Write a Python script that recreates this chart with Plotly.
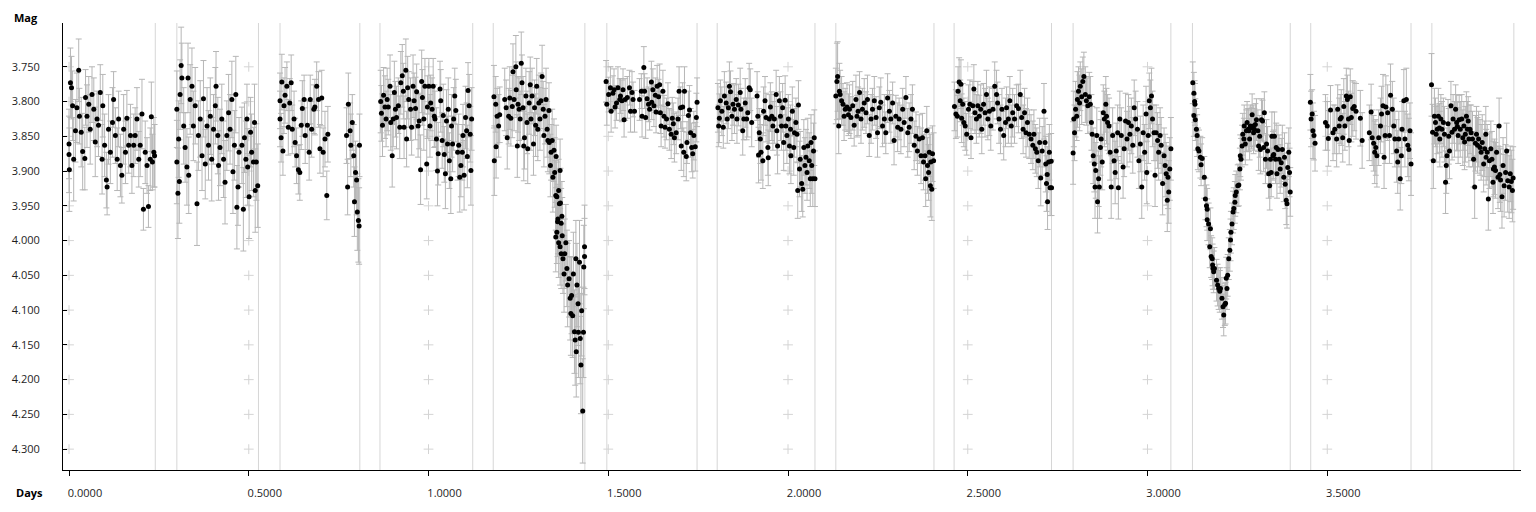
import plotly.graph_objects as go

# ---- data: (day, magnitude, error) per observing segment ----
seg1 = [(0.000,3.861,0.050),(0.000,3.876,0.055),(0.001,3.898,0.060),(0.004,3.773,0.050),(0.007,3.780,0.045),(0.010,3.806,0.050),(0.013,3.883,0.060),(0.018,3.842,0.045),(0.022,3.809,0.050),(0.027,3.755,0.045),(0.029,3.821,0.040),(0.034,3.844,0.050),(0.038,3.872,0.055),(0.044,3.882,0.045),(0.046,3.794,0.040),(0.050,3.821,0.045),(0.055,3.804,0.040),(0.059,3.840,0.050),(0.064,3.790,0.040),(0.069,3.811,0.045),(0.073,3.858,0.050),(0.078,3.825,0.040),(0.082,3.834,0.045),(0.087,3.787,0.040),(0.092,3.883,0.050),(0.094,3.806,0.045),(0.099,3.863,0.045),(0.104,3.913,0.040),(0.106,3.923,0.040),(0.110,3.840,0.050),(0.115,3.873,0.045),(0.121,3.830,0.050),(0.124,3.797,0.040),(0.129,3.849,0.040),(0.134,3.883,0.045),(0.138,3.825,0.040),(0.143,3.892,0.045),(0.147,3.906,0.040),(0.152,3.840,0.050),(0.157,3.873,0.045),(0.161,3.824,0.040),(0.166,3.863,0.040),(0.171,3.849,0.045),(0.175,3.892,0.040),(0.180,3.863,0.045),(0.184,3.849,0.040),(0.189,3.825,0.045),(0.194,3.883,0.040),(0.198,3.863,0.045),(0.203,3.818,0.050),(0.207,3.955,0.030),(0.212,3.873,0.045),(0.217,3.892,0.040),(0.221,3.951,0.030),(0.226,3.883,0.045),(0.229,3.822,0.050),(0.232,3.887,0.040),(0.236,3.873,0.050),(0.238,3.878,0.045)]
seg2 = [(0.300,3.811,0.055),(0.300,3.887,0.060),(0.303,3.932,0.065),(0.305,3.854,0.055),(0.307,3.915,0.060),(0.309,3.790,0.050),(0.312,3.748,0.055),(0.314,3.766,0.050),(0.319,3.835,0.055),(0.323,3.866,0.050),(0.328,3.894,0.055),(0.331,3.766,0.050),(0.333,3.906,0.055),(0.337,3.797,0.050),(0.342,3.778,0.055),(0.346,3.835,0.050),(0.351,3.806,0.055),(0.356,3.947,0.060),(0.360,3.849,0.050),(0.365,3.825,0.055),(0.370,3.878,0.050),(0.374,3.796,0.055),(0.379,3.890,0.050),(0.384,3.835,0.055),(0.388,3.863,0.050),(0.393,3.821,0.055),(0.397,3.883,0.060),(0.402,3.840,0.050),(0.407,3.806,0.055),(0.409,3.778,0.050),(0.414,3.849,0.055),(0.416,3.892,0.050),(0.420,3.866,0.055),(0.425,3.825,0.050),(0.430,3.883,0.055),(0.434,3.916,0.060),(0.439,3.849,0.050),(0.444,3.816,0.055),(0.448,3.840,0.050),(0.453,3.797,0.055),(0.456,3.901,0.060),(0.460,3.863,0.050),(0.464,3.790,0.055),(0.467,3.952,0.060),(0.470,3.923,0.055),(0.473,3.873,0.050),(0.481,3.863,0.055),(0.485,3.955,0.060),(0.488,3.852,0.050),(0.492,3.883,0.055),(0.495,3.825,0.050),(0.497,3.894,0.055),(0.501,3.937,0.060),(0.505,3.844,0.050),(0.508,3.873,0.055),(0.513,3.887,0.050),(0.516,3.830,0.055),(0.518,3.928,0.060),(0.521,3.887,0.055),(0.525,3.921,0.060)]
seg3 = [(0.587,3.799,0.040),(0.587,3.825,0.040),(0.590,3.852,0.035),(0.592,3.772,0.040),(0.595,3.871,0.035),(0.598,3.806,0.040),(0.601,3.791,0.040),(0.606,3.778,0.035),(0.610,3.837,0.040),(0.614,3.802,0.035),(0.618,3.773,0.040),(0.621,3.840,0.035),(0.626,3.825,0.040),(0.629,3.859,0.035),(0.633,3.878,0.040),(0.638,3.898,0.035),(0.642,3.902,0.040),(0.646,3.834,0.035),(0.649,3.810,0.040),(0.654,3.797,0.035),(0.657,3.849,0.040),(0.663,3.834,0.035),(0.668,3.873,0.040),(0.671,3.797,0.035),(0.675,3.840,0.040),(0.681,3.811,0.035),(0.684,3.808,0.040),(0.689,3.778,0.035),(0.694,3.797,0.040),(0.698,3.868,0.035),(0.703,3.795,0.040),(0.707,3.873,0.035),(0.712,3.854,0.040),(0.717,3.935,0.035),(0.720,3.847,0.040),(0.772,3.849,0.040),(0.775,3.923,0.040),(0.777,3.804,0.045),(0.782,3.842,0.040),(0.784,3.863,0.045),(0.788,3.830,0.040),(0.792,3.878,0.045),(0.794,3.944,0.050),(0.797,3.902,0.045),(0.800,3.913,0.050),(0.802,3.959,0.055),(0.805,3.971,0.060),(0.807,3.979,0.055),(0.808,3.863,0.045)]
seg4 = [(0.867,3.800,0.045),(0.869,3.817,0.040),(0.872,3.834,0.045),(0.875,3.791,0.040),(0.879,3.808,0.045),(0.882,3.825,0.040),(0.885,3.797,0.045),(0.888,3.808,0.040),(0.893,3.778,0.045),(0.895,3.830,0.040),(0.899,3.878,0.045),(0.902,3.825,0.040),(0.905,3.787,0.045),(0.908,3.811,0.040),(0.911,3.823,0.045),(0.916,3.806,0.040),(0.920,3.837,0.045),(0.923,3.773,0.045),(0.927,3.763,0.045),(0.930,3.785,0.040),(0.932,3.837,0.045),(0.937,3.755,0.045),(0.939,3.854,0.040),(0.942,3.780,0.045),(0.945,3.797,0.040),(0.950,3.811,0.045),(0.953,3.837,0.040),(0.957,3.778,0.045),(0.960,3.799,0.040),(0.964,3.810,0.045),(0.967,3.786,0.040),(0.971,3.835,0.045),(0.974,3.828,0.040),(0.978,3.898,0.050),(0.981,3.771,0.045),(0.983,3.794,0.040),(0.987,3.825,0.045),(0.990,3.778,0.040),(0.995,3.890,0.050),(0.997,3.808,0.045),(1.001,3.778,0.040),(1.004,3.835,0.045),(1.006,3.802,0.040),(1.010,3.811,0.045),(1.013,3.778,0.040),(1.016,3.821,0.045),(1.018,3.825,0.040),(1.022,3.854,0.045),(1.025,3.900,0.050),(1.027,3.875,0.045),(1.032,3.782,0.040),(1.034,3.799,0.045),(1.038,3.856,0.040),(1.041,3.820,0.045),(1.044,3.876,0.040),(1.047,3.904,0.050),(1.050,3.828,0.045),(1.053,3.861,0.040),(1.055,3.811,0.045),(1.058,3.885,0.040),(1.062,3.911,0.050),(1.064,3.835,0.045),(1.067,3.861,0.040),(1.070,3.825,0.045),(1.073,3.792,0.040),(1.076,3.813,0.045),(1.081,3.873,0.040),(1.084,3.863,0.045),(1.087,3.909,0.050),(1.090,3.892,0.045),(1.094,3.873,0.040),(1.096,3.849,0.045),(1.099,3.906,0.050),(1.103,3.823,0.045),(1.106,3.842,0.040),(1.108,3.879,0.045),(1.110,3.784,0.040),(1.113,3.806,0.045),(1.116,3.847,0.040),(1.118,3.899,0.050),(1.120,3.825,0.045)]
seg5 = [(1.182,3.793,0.045),(1.183,3.885,0.050),(1.187,3.804,0.040),(1.188,3.865,0.045),(1.191,3.821,0.040),(1.195,3.835,0.045),(1.198,3.819,0.040),(1.212,3.797,0.045),(1.216,3.809,0.040),(1.219,3.852,0.045),(1.223,3.821,0.040),(1.226,3.795,0.045),(1.229,3.824,0.040),(1.233,3.807,0.045),(1.235,3.757,0.040),(1.238,3.797,0.045),(1.243,3.750,0.045),(1.244,3.783,0.040),(1.247,3.864,0.045),(1.249,3.804,0.040),(1.252,3.811,0.045),(1.255,3.825,0.040),(1.258,3.745,0.045),(1.260,3.773,0.040),(1.263,3.809,0.045),(1.265,3.864,0.050),(1.267,3.852,0.045),(1.271,3.792,0.040),(1.274,3.830,0.045),(1.276,3.868,0.050),(1.280,3.802,0.045),(1.283,3.776,0.040),(1.285,3.825,0.045),(1.288,3.792,0.040),(1.292,3.861,0.045),(1.295,3.809,0.040),(1.298,3.834,0.045),(1.301,3.778,0.040),(1.304,3.840,0.045),(1.307,3.802,0.040),(1.310,3.825,0.045),(1.313,3.799,0.040),(1.316,3.764,0.045),(1.319,3.811,0.040),(1.321,3.849,0.045),(1.324,3.821,0.040),(1.327,3.797,0.045),(1.330,3.840,0.040),(1.332,3.856,0.045),(1.335,3.813,0.040),(1.336,3.859,0.045),(1.339,3.892,0.045),(1.341,3.873,0.040),(1.344,3.856,0.045),(1.346,3.909,0.050),(1.349,3.870,0.045),(1.351,3.902,0.050),(1.354,3.935,0.050),(1.355,3.879,0.045),(1.357,3.937,0.050),(1.360,3.969,0.050),(1.362,3.928,0.045),(1.364,3.947,0.050),(1.366,3.899,0.045),(1.367,3.946,0.050),(1.369,3.975,0.050),(1.371,3.965,0.050),(1.354,3.995,0.050),(1.357,3.988,0.045),(1.359,3.973,0.050),(1.362,4.003,0.050),(1.366,4.009,0.055),(1.369,4.019,0.050),(1.372,3.993,0.055),(1.374,4.026,0.050),(1.377,4.048,0.055),(1.379,4.019,0.050),(1.382,4.003,0.055),(1.385,4.040,0.055),(1.387,4.064,0.060),(1.391,4.055,0.055),(1.394,4.083,0.060),(1.396,4.105,0.060),(1.398,4.079,0.055),(1.401,4.108,0.060),(1.403,4.048,0.060),(1.406,4.131,0.060),(1.408,4.143,0.065),(1.410,4.026,0.055),(1.411,4.160,0.065),(1.413,4.064,0.060),(1.416,4.091,0.060),(1.417,4.132,0.065),(1.420,4.031,0.060),(1.422,4.141,0.065),(1.424,4.179,0.070),(1.426,4.101,0.065),(1.429,4.245,0.075),(1.431,4.132,0.065),(1.432,4.038,0.060),(1.434,4.023,0.055),(1.434,4.009,0.060)]
seg6 = [(1.494,3.771,0.030),(1.496,3.804,0.030),(1.501,3.790,0.025),(1.506,3.780,0.030),(1.508,3.814,0.030),(1.513,3.788,0.025),(1.516,3.783,0.030),(1.519,3.808,0.030),(1.523,3.802,0.025),(1.527,3.780,0.030),(1.532,3.797,0.030),(1.534,3.792,0.025),(1.538,3.799,0.030),(1.541,3.783,0.030),(1.544,3.826,0.025),(1.547,3.797,0.030),(1.553,3.794,0.030),(1.559,3.780,0.025),(1.562,3.814,0.030),(1.566,3.787,0.030),(1.569,3.797,0.025),(1.573,3.814,0.030),(1.587,3.797,0.030),(1.592,3.785,0.025),(1.594,3.821,0.030),(1.599,3.751,0.030),(1.601,3.785,0.025),(1.604,3.823,0.030),(1.608,3.796,0.030),(1.612,3.804,0.025),(1.615,3.811,0.030),(1.620,3.772,0.030),(1.621,3.801,0.025),(1.624,3.783,0.030),(1.627,3.806,0.030),(1.631,3.791,0.025),(1.633,3.815,0.030),(1.636,3.778,0.030),(1.640,3.793,0.025),(1.643,3.776,0.030),(1.645,3.816,0.030),(1.647,3.835,0.030),(1.652,3.785,0.030),(1.655,3.821,0.030),(1.658,3.837,0.030),(1.662,3.825,0.030),(1.666,3.803,0.030),(1.670,3.840,0.030),(1.675,3.847,0.035),(1.678,3.824,0.030),(1.681,3.832,0.030),(1.684,3.852,0.035),(1.689,3.845,0.030),(1.694,3.825,0.030),(1.697,3.785,0.035),(1.701,3.809,0.030),(1.703,3.864,0.035),(1.707,3.808,0.035),(1.710,3.873,0.035),(1.712,3.785,0.035),(1.717,3.879,0.035),(1.719,3.859,0.030),(1.723,3.820,0.035),(1.726,3.812,0.035),(1.729,3.845,0.035),(1.732,3.866,0.035),(1.735,3.875,0.035),(1.738,3.849,0.035),(1.742,3.865,0.035),(1.745,3.823,0.035),(1.747,3.801,0.035)]
seg7 = [(1.805,3.809,0.035),(1.807,3.835,0.030),(1.809,3.824,0.035),(1.812,3.799,0.030),(1.816,3.814,0.035),(1.820,3.837,0.030),(1.823,3.792,0.035),(1.828,3.802,0.030),(1.831,3.825,0.035),(1.834,3.809,0.030),(1.837,3.778,0.035),(1.840,3.786,0.030),(1.844,3.821,0.035),(1.847,3.804,0.030),(1.851,3.811,0.035),(1.856,3.797,0.030),(1.858,3.825,0.035),(1.862,3.805,0.030),(1.867,3.787,0.035),(1.869,3.811,0.030),(1.874,3.842,0.035),(1.877,3.825,0.030),(1.881,3.802,0.035),(1.885,3.825,0.030),(1.888,3.816,0.035),(1.892,3.780,0.035),(1.895,3.783,0.030),(1.899,3.830,0.035),(1.914,3.792,0.035),(1.916,3.821,0.035),(1.918,3.877,0.040),(1.920,3.845,0.035),(1.923,3.854,0.035),(1.925,3.873,0.040),(1.930,3.885,0.040),(1.932,3.814,0.035),(1.936,3.799,0.035),(1.939,3.823,0.035),(1.944,3.866,0.040),(1.945,3.881,0.040),(1.948,3.825,0.035),(1.951,3.808,0.035),(1.955,3.821,0.035),(1.958,3.835,0.035),(1.962,3.825,0.035),(1.967,3.790,0.035),(1.969,3.842,0.035),(1.971,3.864,0.040),(1.976,3.799,0.035),(1.979,3.821,0.035),(1.982,3.835,0.035),(1.985,3.809,0.035),(1.988,3.859,0.040),(1.992,3.798,0.035),(1.994,3.835,0.035),(1.997,3.849,0.040),(2.001,3.825,0.035),(2.004,3.864,0.040),(2.007,3.840,0.035),(2.008,3.878,0.040),(2.012,3.814,0.035),(2.016,3.866,0.040),(2.018,3.845,0.035),(2.022,3.830,0.035),(2.025,3.847,0.040),(2.027,3.928,0.040),(2.029,3.805,0.035),(2.032,3.897,0.040),(2.034,3.883,0.040),(2.038,3.918,0.040),(2.041,3.926,0.040),(2.044,3.866,0.040),(2.047,3.892,0.040),(2.050,3.880,0.040),(2.053,3.902,0.040),(2.055,3.864,0.040),(2.059,3.885,0.040),(2.062,3.911,0.040),(2.064,3.859,0.040),(2.066,3.892,0.040),(2.069,3.911,0.040),(2.071,3.871,0.040),(2.073,3.852,0.040),(2.075,3.911,0.040)]
seg8 = [(2.133,3.792,0.040),(2.136,3.771,0.055),(2.138,3.764,0.050),(2.141,3.835,0.040),(2.143,3.785,0.040),(2.145,3.790,0.035),(2.149,3.799,0.035),(2.153,3.804,0.030),(2.156,3.821,0.035),(2.159,3.811,0.030),(2.164,3.808,0.035),(2.168,3.819,0.030),(2.171,3.811,0.035),(2.175,3.823,0.030),(2.180,3.806,0.035),(2.184,3.834,0.030),(2.189,3.797,0.035),(2.192,3.821,0.030),(2.195,3.814,0.035),(2.199,3.787,0.030),(2.203,3.825,0.035),(2.207,3.811,0.030),(2.212,3.802,0.035),(2.217,3.816,0.030),(2.221,3.797,0.035),(2.226,3.849,0.030),(2.231,3.825,0.035),(2.235,3.811,0.030),(2.240,3.799,0.035),(2.245,3.823,0.030),(2.249,3.845,0.035),(2.254,3.809,0.030),(2.258,3.801,0.035),(2.263,3.835,0.030),(2.268,3.825,0.035),(2.272,3.845,0.030),(2.277,3.795,0.035),(2.282,3.814,0.030),(2.286,3.825,0.035),(2.291,3.802,0.030),(2.295,3.856,0.035),(2.300,3.821,0.030),(2.305,3.837,0.035),(2.309,3.825,0.030),(2.314,3.840,0.035),(2.319,3.811,0.030),(2.323,3.830,0.035),(2.328,3.794,0.030),(2.333,3.845,0.035),(2.337,3.837,0.035),(2.342,3.825,0.035),(2.346,3.811,0.035),(2.351,3.863,0.035),(2.356,3.850,0.035),(2.360,3.871,0.035),(2.365,3.854,0.035),(2.370,3.878,0.040),(2.374,3.852,0.035),(2.377,3.887,0.040),(2.381,3.878,0.035),(2.383,3.911,0.040),(2.386,3.842,0.035),(2.388,3.892,0.040),(2.391,3.902,0.040),(2.393,3.873,0.035),(2.396,3.921,0.045),(2.397,3.887,0.040),(2.400,3.926,0.045),(2.402,3.875,0.040),(2.405,3.885,0.040)]
seg9 = [(2.463,3.807,0.035),(2.467,3.818,0.035),(2.471,3.821,0.030),(2.473,3.785,0.035),(2.476,3.772,0.035),(2.479,3.799,0.030),(2.481,3.775,0.035),(2.483,3.824,0.035),(2.486,3.804,0.030),(2.489,3.830,0.035),(2.493,3.835,0.035),(2.497,3.847,0.030),(2.502,3.811,0.035),(2.506,3.804,0.035),(2.509,3.852,0.030),(2.514,3.806,0.035),(2.517,3.782,0.035),(2.520,3.816,0.030),(2.524,3.825,0.035),(2.528,3.806,0.035),(2.532,3.821,0.030),(2.536,3.811,0.035),(2.539,3.840,0.035),(2.544,3.804,0.030),(2.548,3.816,0.035),(2.552,3.790,0.035),(2.556,3.825,0.030),(2.560,3.814,0.035),(2.564,3.835,0.035),(2.570,3.811,0.030),(2.575,3.778,0.035),(2.580,3.790,0.035),(2.583,3.802,0.030),(2.587,3.825,0.035),(2.591,3.840,0.035),(2.595,3.811,0.030),(2.600,3.849,0.035),(2.605,3.830,0.035),(2.608,3.809,0.030),(2.613,3.825,0.035),(2.617,3.799,0.035),(2.621,3.835,0.030),(2.625,3.816,0.035),(2.630,3.825,0.035),(2.636,3.806,0.030),(2.641,3.810,0.035),(2.646,3.790,0.035),(2.650,3.823,0.030),(2.654,3.840,0.035),(2.658,3.816,0.035),(2.662,3.845,0.035),(2.666,3.830,0.035),(2.671,3.847,0.035),(2.676,3.854,0.035),(2.681,3.863,0.035),(2.684,3.847,0.035),(2.688,3.868,0.035),(2.692,3.873,0.035),(2.696,3.885,0.040),(2.700,3.859,0.035),(2.703,3.910,0.040),(2.707,3.871,0.035),(2.712,3.814,0.040),(2.715,3.859,0.035),(2.717,3.890,0.040),(2.719,3.918,0.040),(2.721,3.905,0.040),(2.722,3.944,0.040),(2.725,3.887,0.040),(2.727,3.873,0.040),(2.729,3.924,0.040),(2.732,3.886,0.040),(2.733,3.924,0.040)]
seg10 = [(2.793,3.874,0.045),(2.795,3.825,0.040),(2.797,3.845,0.040),(2.800,3.811,0.040),(2.803,3.821,0.035),(2.805,3.797,0.040),(2.808,3.785,0.035),(2.811,3.802,0.040),(2.813,3.778,0.035),(2.817,3.793,0.040),(2.820,3.771,0.035),(2.823,3.764,0.035),(2.827,3.790,0.040),(2.830,3.799,0.035),(2.834,3.806,0.040),(2.838,3.793,0.035),(2.841,3.804,0.040),(2.844,3.830,0.040),(2.846,3.847,0.040),(2.849,3.878,0.040),(2.852,3.890,0.040),(2.854,3.923,0.045),(2.856,3.899,0.040),(2.859,3.849,0.040),(2.861,3.944,0.045),(2.864,3.911,0.040),(2.866,3.923,0.045),(2.869,3.866,0.040),(2.871,3.854,0.040),(2.874,3.887,0.040),(2.877,3.816,0.040),(2.880,3.825,0.040),(2.884,3.804,0.040),(2.886,3.821,0.040),(2.889,3.830,0.040),(2.893,3.835,0.040),(2.896,3.873,0.040),(2.899,3.923,0.045),(2.903,3.849,0.040),(2.907,3.885,0.040),(2.910,3.902,0.045),(2.913,3.871,0.040),(2.917,3.845,0.040),(2.919,3.924,0.045),(2.923,3.825,0.040),(2.927,3.849,0.040),(2.932,3.894,0.045),(2.935,3.868,0.040),(2.939,3.828,0.040),(2.943,3.854,0.040),(2.947,3.830,0.040),(2.951,3.847,0.040),(2.955,3.835,0.040),(2.959,3.863,0.040),(2.963,3.809,0.040),(2.967,3.825,0.040),(2.972,3.840,0.040),(2.976,3.885,0.040),(2.980,3.861,0.040),(2.984,3.923,0.045),(2.988,3.845,0.040),(2.992,3.873,0.040),(2.996,3.818,0.040),(2.998,3.902,0.045),(3.002,3.849,0.040),(3.005,3.799,0.040),(3.008,3.809,0.040),(3.011,3.792,0.040),(3.014,3.825,0.040),(3.018,3.845,0.040),(3.021,3.906,0.045),(3.024,3.845,0.040),(3.028,3.856,0.040),(3.031,3.873,0.040),(3.035,3.849,0.040),(3.038,3.863,0.040),(3.042,3.918,0.045),(3.046,3.878,0.040),(3.049,3.892,0.045),(3.052,3.904,0.045),(3.055,3.942,0.045),(3.057,3.909,0.045),(3.059,3.930,0.045),(3.062,3.897,0.045),(3.065,3.868,0.045)]
seg11 = [(3.126,3.773,0.030),(3.129,3.788,0.030),(3.131,3.800,0.030),(3.132,3.804,0.030),(3.129,3.820,0.030),(3.133,3.826,0.030),(3.136,3.840,0.030),(3.138,3.849,0.030),(3.140,3.868,0.030),(3.143,3.871,0.030),(3.147,3.880,0.030),(3.149,3.891,0.030),(3.152,3.882,0.030),(3.158,3.909,0.030),(3.161,3.940,0.030),(3.164,3.950,0.030),(3.166,3.955,0.030),(3.166,3.970,0.030),(3.170,3.976,0.030),(3.175,3.983,0.030),(3.173,4.009,0.030),(3.177,4.023,0.030),(3.180,4.026,0.030),(3.182,4.040,0.030),(3.181,4.035,0.030),(3.184,4.045,0.030),(3.186,4.040,0.030),(3.192,4.057,0.030),(3.195,4.064,0.030),(3.198,4.069,0.030),(3.201,4.073,0.030),(3.203,4.069,0.030),(3.207,4.083,0.030),(3.210,4.095,0.030),(3.212,4.107,0.030),(3.215,4.092,0.030),(3.217,4.090,0.030),(3.219,4.054,0.030),(3.221,4.069,0.030),(3.223,4.050,0.030),(3.226,4.026,0.030),(3.229,4.014,0.030),(3.231,3.999,0.030),(3.232,3.988,0.030),(3.235,3.976,0.030),(3.238,3.959,0.030),(3.240,3.954,0.030),(3.243,3.945,0.030),(3.244,3.935,0.030),(3.247,3.930,0.030),(3.251,3.921,0.030),(3.254,3.920,0.030),(3.257,3.897,0.030),(3.258,3.878,0.030),(3.260,3.883,0.030),(3.263,3.864,0.030),(3.265,3.847,0.030),(3.268,3.854,0.030),(3.269,3.835,0.030),(3.272,3.861,0.030),(3.275,3.842,0.030),(3.277,3.830,0.030),(3.280,3.840,0.030),(3.282,3.842,0.030),(3.284,3.854,0.030),(3.286,3.835,0.030),(3.289,3.838,0.030),(3.291,3.819,0.030),(3.294,3.835,0.030),(3.295,3.845,0.030),(3.297,3.840,0.030),(3.300,3.833,0.030),(3.303,3.826,0.030),(3.307,3.842,0.030),(3.309,3.864,0.035),(3.312,3.850,0.030),(3.314,3.869,0.035),(3.317,3.826,0.030),(3.320,3.828,0.030),(3.323,3.866,0.035),(3.325,3.816,0.030),(3.328,3.883,0.035),(3.331,3.861,0.035),(3.334,3.871,0.035),(3.337,3.904,0.035),(3.340,3.921,0.035),(3.342,3.883,0.035),(3.344,3.902,0.035),(3.346,3.850,0.035),(3.349,3.878,0.035),(3.351,3.876,0.035),(3.353,3.850,0.035),(3.356,3.883,0.035),(3.358,3.866,0.035),(3.360,3.904,0.035),(3.363,3.869,0.035),(3.366,3.883,0.035),(3.369,3.897,0.035),(3.372,3.888,0.035),(3.375,3.869,0.035),(3.379,3.909,0.035),(3.381,3.880,0.035),(3.383,3.919,0.035),(3.386,3.942,0.035),(3.388,3.947,0.035),(3.390,3.895,0.035),(3.393,3.873,0.035),(3.395,3.902,0.035),(3.397,3.930,0.035)]
seg12 = [(3.453,3.801,0.040),(3.455,3.825,0.040),(3.458,3.818,0.035),(3.460,3.842,0.040),(3.463,3.849,0.035),(3.466,3.860,0.040),(3.495,3.830,0.040),(3.500,3.835,0.035),(3.503,3.853,0.040),(3.509,3.812,0.035),(3.516,3.845,0.040),(3.521,3.840,0.035),(3.526,3.854,0.040),(3.529,3.811,0.035),(3.533,3.835,0.040),(3.536,3.825,0.035),(3.539,3.823,0.040),(3.543,3.852,0.035),(3.546,3.807,0.040),(3.549,3.835,0.035),(3.553,3.792,0.040),(3.556,3.797,0.035),(3.559,3.825,0.040),(3.561,3.856,0.035),(3.564,3.793,0.040),(3.567,3.823,0.035),(3.571,3.810,0.040),(3.575,3.807,0.035),(3.580,3.814,0.040),(3.592,3.824,0.040),(3.597,3.856,0.040),(3.617,3.845,0.040),(3.622,3.815,0.040),(3.625,3.852,0.040),(3.629,3.860,0.040),(3.632,3.873,0.045),(3.635,3.866,0.040),(3.638,3.878,0.045),(3.643,3.852,0.040),(3.648,3.835,0.040),(3.651,3.818,0.040),(3.655,3.806,0.045),(3.658,3.880,0.045),(3.661,3.849,0.040),(3.663,3.808,0.045),(3.668,3.816,0.040),(3.673,3.849,0.040),(3.676,3.791,0.045),(3.681,3.811,0.040),(3.685,3.835,0.040),(3.688,3.854,0.040),(3.693,3.871,0.045),(3.696,3.887,0.045),(3.699,3.854,0.040),(3.703,3.911,0.045),(3.706,3.878,0.040),(3.708,3.840,0.040),(3.713,3.799,0.045),(3.716,3.854,0.040),(3.720,3.797,0.045),(3.724,3.863,0.045),(3.727,3.869,0.045),(3.730,3.842,0.040),(3.733,3.890,0.045)]
seg13 = [(3.790,3.776,0.045),(3.793,3.844,0.040),(3.795,3.885,0.040),(3.798,3.821,0.040),(3.801,3.830,0.035),(3.803,3.847,0.040),(3.806,3.840,0.035),(3.809,3.821,0.040),(3.812,3.838,0.035),(3.813,3.854,0.040),(3.816,3.825,0.035),(3.819,3.840,0.040),(3.823,3.830,0.035),(3.826,3.847,0.040),(3.829,3.916,0.045),(3.831,3.892,0.040),(3.833,3.878,0.040),(3.836,3.832,0.035),(3.838,3.850,0.040),(3.840,3.871,0.040),(3.844,3.806,0.035),(3.847,3.844,0.040),(3.850,3.825,0.035),(3.854,3.840,0.040),(3.857,3.811,0.035),(3.860,3.830,0.040),(3.862,3.836,0.035),(3.864,3.849,0.040),(3.867,3.826,0.035),(3.870,3.840,0.040),(3.874,3.825,0.035),(3.877,3.852,0.040),(3.880,3.835,0.035),(3.882,3.858,0.040),(3.884,3.847,0.040),(3.887,3.821,0.035),(3.890,3.840,0.040),(3.892,3.828,0.035),(3.894,3.854,0.040),(3.897,3.840,0.035),(3.900,3.845,0.040),(3.904,3.854,0.040),(3.907,3.883,0.040),(3.910,3.923,0.045),(3.912,3.860,0.040),(3.915,3.847,0.040),(3.918,3.863,0.040),(3.921,3.854,0.040),(3.925,3.866,0.040),(3.928,3.873,0.040),(3.931,3.859,0.040),(3.935,3.890,0.040),(3.938,3.868,0.040),(3.941,3.847,0.040),(3.942,3.880,0.040),(3.945,3.873,0.040),(3.948,3.940,0.045),(3.951,3.885,0.040),(3.955,3.868,0.040),(3.958,3.883,0.040),(3.961,3.916,0.045),(3.962,3.897,0.040),(3.965,3.894,0.040),(3.968,3.899,0.040),(3.971,3.873,0.040),(3.975,3.909,0.045),(3.978,3.835,0.040),(3.980,3.905,0.040),(3.982,3.913,0.045),(3.986,3.937,0.045),(3.989,3.892,0.040),(3.992,3.921,0.045),(3.996,3.902,0.040),(3.999,3.871,0.040),(4.002,3.914,0.045),(4.006,3.923,0.045),(4.009,3.904,0.040),(4.012,3.915,0.045),(4.015,3.928,0.045),(4.017,3.910,0.045)]
segments = [seg1, seg2, seg3, seg4, seg5, seg6, seg7, seg8, seg9, seg10, seg11, seg12, seg13]

# segment boundary markers (days)
boundaries = [0.240, 0.300, 0.527, 0.587, 0.809, 0.865, 1.123, 1.180, 1.435, 1.496,
              1.747, 1.803, 2.075, 2.133, 2.406, 2.462, 2.733, 2.793, 3.065, 3.125,
              3.397, 3.454, 3.733, 3.791, 4.019]

x_ticks = [0.0, 0.5, 1.0, 1.5, 2.0, 2.5, 3.0, 3.5]
y_ticks = [3.75, 3.80, 3.85, 3.90, 3.95, 4.00, 4.05, 4.10, 4.15, 4.20, 4.25, 4.30]

FONT = "Open Sans, Noto Sans, DejaVu Sans, sans-serif"

fig = go.Figure()

# "+" markers at tick intersections
gx = [x for x in x_ticks for _ in y_ticks]
gy = [y for _ in x_ticks for y in y_ticks]
fig.add_trace(go.Scatter(
    x=gx, y=gy, mode="markers", hoverinfo="skip",
    marker=dict(symbol="cross-thin", size=7, line=dict(color="#d4d4d4", width=1)),
))

for seg in segments:
    fig.add_trace(go.Scatter(
        x=[p[0] for p in seg], y=[p[1] for p in seg], mode="markers",
        marker=dict(symbol="circle", size=5, color="black"),
        error_y=dict(type="data", array=[p[2] for p in seg], color="#b6b6b6",
                     thickness=1, width=3),
    ))

for b in boundaries:
    fig.add_shape(type="line", x0=b, x1=b, y0=0, y1=1, xref="x", yref="paper",
                  line=dict(color="#d6d6d6", width=1), layer="below")

fig.update_layout(
    width=1536, height=512,
    margin=dict(l=61, r=15, t=23, b=40),
    paper_bgcolor="white", plot_bgcolor="white",
    showlegend=False,
    font=dict(family=FONT, size=11, color="#1e1e1e"),
)
fig.update_xaxes(
    range=[-0.0167, 4.0389], tickvals=x_ticks, tickformat=".4f",
    showgrid=False, zeroline=False, showline=True, linecolor="black", linewidth=1,
    ticks="outside", ticklen=5, tickcolor="black",
    ticklabelshift=16, ticklabelstandoff=8,
)
fig.update_yaxes(
    range=[4.330, 3.687], tickvals=y_ticks, tickformat=".3f",
    showgrid=False, zeroline=False, showline=True, linecolor="black", linewidth=1,
    ticks="inside", ticklen=4, tickcolor="black",
    ticklabelstandoff=20,
)

fig.add_annotation(text="<b>Mag</b>", xref="paper", yref="paper", x=0, y=1,
                   xanchor="left", yanchor="middle", xshift=-51, yshift=6,
                   showarrow=False, font=dict(size=11, color="black"))
fig.add_annotation(text="<b>Days</b>", xref="paper", yref="paper", x=0, y=0,
                   xanchor="left", yanchor="middle", xshift=-49, yshift=-22,
                   showarrow=False, font=dict(size=11, color="black"))

fig.write_html("out.html", config={"displayModeBar": False},
               post_script="document.body.style.margin='0';document.body.style.overflow='hidden';")
